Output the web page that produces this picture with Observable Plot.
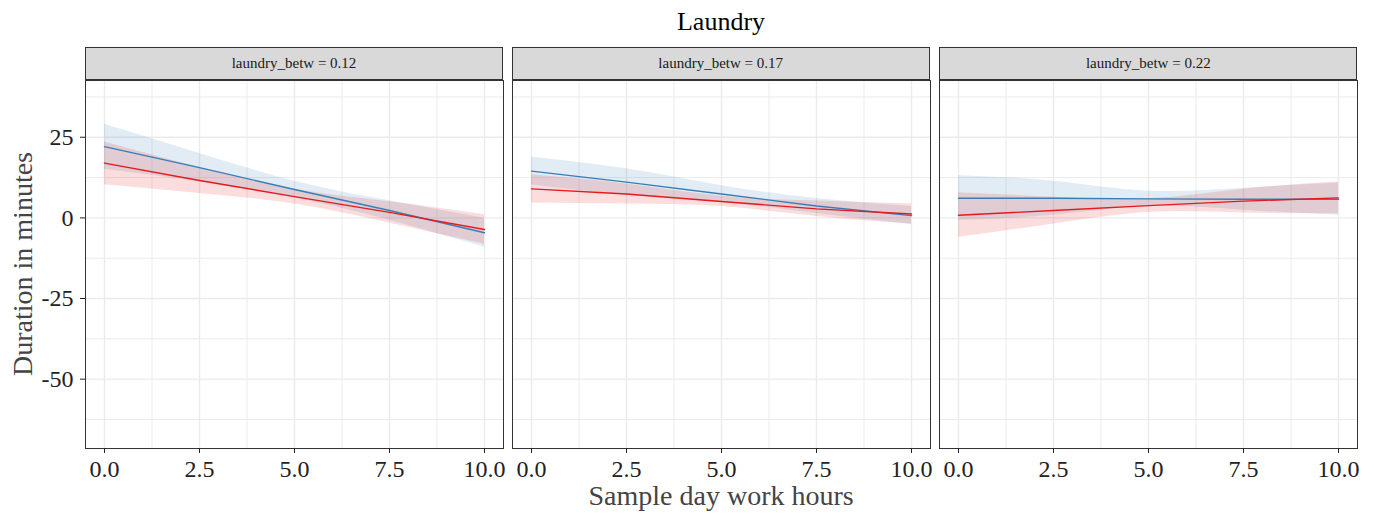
<!DOCTYPE html>
<html>
<head>
<meta charset="utf-8">
<script src="https://cdn.jsdelivr.net/npm/d3@7"></script>
<script src="https://cdn.jsdelivr.net/npm/@observablehq/plot@0.6"></script>
<style>
  html, body { margin: 0; padding: 0; background: #fff; }
  #root { position: relative; width: 1376px; height: 515px; overflow: hidden; font-family: "Liberation Serif", "Times New Roman", serif; }
  #root svg { overflow: visible; background: none !important; }
  .abs { position: absolute; }
  .strip { box-sizing: border-box; background: #d9d9d9; border: 1px solid #333; color: #1a1a1a; font-size: 15px; text-align: center; }
</style>
</head>
<body>
<div id="root"></div>
<script>
// ---- data ----
const chartTitle = "Laundry";
const yTitle = "Duration in minutes";
const xTitle = "Sample day work hours";
const facetLabels = ["laundry_betw = 0.12", "laundry_betw = 0.17", "laundry_betw = 0.22"];
const hours = [0, 2.5, 5, 7.5, 10];

const blueFit = [[22.1, 15.6, 8.8, 2.3, -4.6], [14.5, 11.1, 7.4, 3.7, 0.7], [6.1, 6.1, 5.9, 5.8, 5.8]];
const blueLo  = [[15.1, 11.2, 6.2, -0.7, -9.1], [10.2, 7.0, 4.8, 1.4, -2.1], [-0.8, 0.8, 3.5, 2.4, 0.8]];
const blueHi  = [[29.0, 20.0, 11.4, 5.3, -0.1], [18.8, 15.2, 10.0, 6.0, 3.5], [13.1, 11.4, 8.3, 9.2, 10.8]];
const redFit  = [[17.0, 11.6, 6.6, 1.7, -3.6], [9.0, 7.4, 5.1, 2.8, 1.2], [0.8, 2.3, 3.8, 5.2, 6.2]];
const redLo   = [[10.3, 7.6, 4.3, -1.6, -8.2], [4.6, 4.3, 3.5, 0.4, -1.9], [-6.0, -1.9, 1.7, 1.5, 1.3]];
const redHi   = [[23.5, 15.6, 8.9, 5.0, 1.0], [13.4, 10.5, 6.7, 5.2, 4.3], [7.8, 6.4, 5.9, 8.9, 11.1]];

const xMajor = [0, 2.5, 5, 7.5, 10];
const xMinor = [1.25, 3.75, 6.25, 8.75];
const yMajor = [25, 0, -25, -50];
const yMinor = [37.5, 12.5, -12.5, -37.5, -62.5];

// ---- styling / layout ----
const BLUE = "#377EB8", RED = "#E41A1C";
const frameLefts = [85, 511.7, 939.3];
const panelW = 418, panelTop = 80, panelH = 368, stripTop = 46.7, stripH = 33.3;
const root = document.getElementById("root");

function add(el, css) { el.classList.add("abs"); Object.assign(el.style, css); root.appendChild(el); return el; }

// title
const t = document.createElement("div");
t.textContent = chartTitle;
add(t, { left: "0px", width: "1442px", top: "4px", textAlign: "center", fontSize: "26px", color: "#000", lineHeight: "36px" });

facetLabels.forEach((lab, i) => {
  const rows = (fit, lo, hi) => hours.map((x, k) => ({ x, fit: fit[i][k], lo: lo[i][k], hi: hi[i][k] }));
  const b = rows(blueFit, blueLo, blueHi);
  const r = rows(redFit, redLo, redHi);
  const mL = i === 0 ? 85 : 0;
  const marks = [
    Plot.gridX(xMinor, { stroke: "#ebebeb", strokeOpacity: 1, strokeWidth: 1 }),
    Plot.gridY(yMinor, { stroke: "#ebebeb", strokeOpacity: 1, strokeWidth: 1 }),
    Plot.gridX(xMajor, { stroke: "#ebebeb", strokeOpacity: 1, strokeWidth: 1.4 }),
    Plot.gridY(yMajor, { stroke: "#ebebeb", strokeOpacity: 1, strokeWidth: 1.4 }),
    Plot.areaY(b, { x: "x", y1: "lo", y2: "hi", fill: BLUE, fillOpacity: 0.15, curve: "natural" }),
    Plot.areaY(r, { x: "x", y1: "lo", y2: "hi", fill: RED, fillOpacity: 0.15, curve: "natural" }),
    Plot.lineY(b, { x: "x", y: "fit", stroke: BLUE, strokeWidth: 1.4 }),
    Plot.lineY(r, { x: "x", y: "fit", stroke: RED, strokeWidth: 1.4 }),
    Plot.frame({ stroke: "#333", strokeWidth: 1 }),
    Plot.axisX(xMajor, { tickSize: 5, tickPadding: 6, fontSize: 24, color: "#222", tickFormat: d => d.toFixed(1), label: null })
  ];
  if (i === 0) marks.push(Plot.axisY(yMajor, { tickSize: 5, tickPadding: 7, fontSize: 24, color: "#222", tickFormat: d => String(d), label: null }));
  const svg = Plot.plot({
    width: mL + panelW,
    height: panelH + 45,
    marginTop: 0, marginBottom: 45, marginLeft: mL, marginRight: 0,
    x: { domain: [-0.5, 10.5] },
    y: { domain: [-71.5, 42.6], axis: i === 0 ? undefined : null },
    style: { fontFamily: "Liberation Serif, serif", fontSize: "24px", background: "none", overflow: "visible" },
    marks
  });
  add(svg, { left: (frameLefts[i] - mL) + "px", top: panelTop + "px" });

  const s = document.createElement("div");
  s.className = "strip";
  s.textContent = lab;
  add(s, { left: frameLefts[i] + "px", top: stripTop + "px", width: panelW + "px", height: stripH + "px", lineHeight: (stripH - 2) + "px" });
});

// axis titles
const xl = document.createElement("div");
xl.textContent = xTitle;
add(xl, { left: frameLefts[0] + "px", width: (frameLefts[2] + panelW - frameLefts[0]) + "px", top: "478px", textAlign: "center", fontSize: "28px", color: "#444", lineHeight: "36px" });

const yl = document.createElement("div");
yl.textContent = yTitle;
add(yl, { left: "23px", top: "264px", fontSize: "28px", color: "#444", whiteSpace: "nowrap", lineHeight: "32px", transform: "translate(-50%, -50%) rotate(-90deg)" });
</script>
</body>
</html>
